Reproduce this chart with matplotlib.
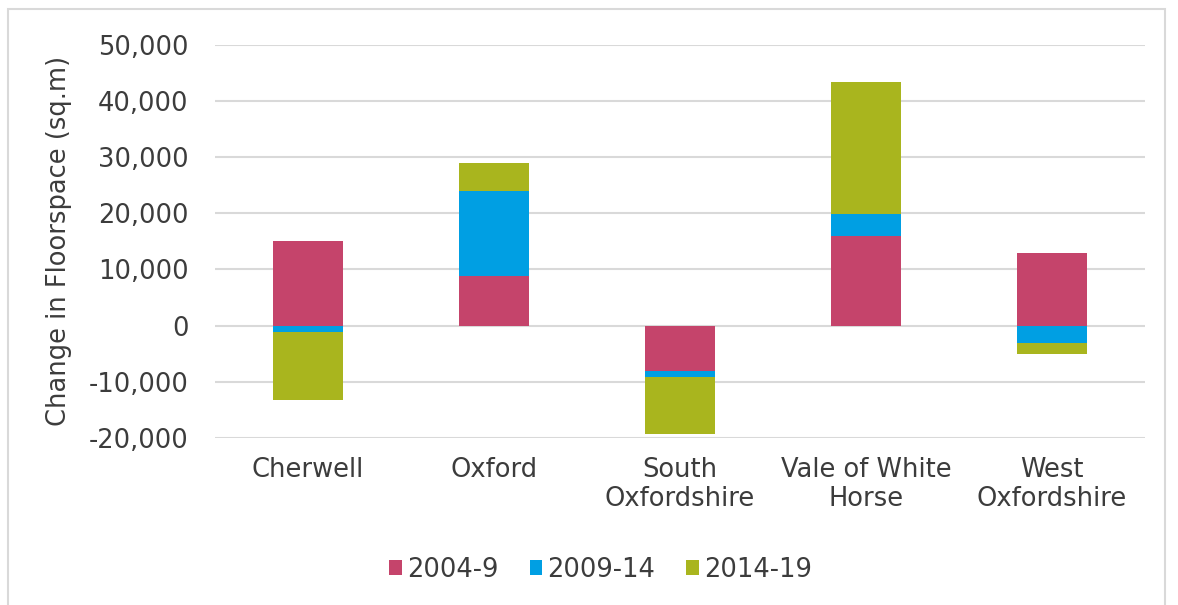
import numpy as np
import matplotlib
matplotlib.use("Agg")
import matplotlib.pyplot as plt
from matplotlib.patches import Rectangle
from matplotlib.ticker import FuncFormatter

plt.rcParams["font.family"] = ["DejaVu Sans"]

districts = ["Cherwell", "Oxford", "South\nOxfordshire", "Vale of White\nHorse", "West\nOxfordshire"]
periods = ["2004-9", "2009-14", "2014-19"]
change_2004_9 = [15000, 8800, -8100, 15900, 12900]
change_2009_14 = [-1200, 15200, -1100, 4000, -3000]
change_2014_19 = [-12100, 5000, -10000, 23400, -2000]
colors = ["#C5446B", "#009FE3", "#A9B51E"]

TXT = "#3C3C3C"
FS = 18.5

fig = plt.figure(figsize=(11.78, 6.05), dpi=100)
ax = fig.add_axes([0.1825, 0.276, 0.7895, 0.65])

x = np.arange(len(districts))
pos_base = np.zeros(len(districts))
neg_base = np.zeros(len(districts))
for vals, lab, col in zip([change_2004_9, change_2009_14, change_2014_19], periods, colors):
    v = np.array(vals, dtype=float)
    bottom = np.where(v >= 0, pos_base, neg_base)
    ax.bar(x, v, width=0.38, bottom=bottom, color=col, label=lab, zorder=3)
    pos_base += np.where(v >= 0, v, 0)
    neg_base += np.where(v < 0, v, 0)

ax.set_xlim(-0.5, 4.5)
ax.set_ylim(-20000, 50000)
ax.set_yticks(np.arange(-20000, 50001, 10000))
ax.yaxis.set_major_formatter(FuncFormatter(lambda v, p: f"{int(v):,}"))
ax.set_xticks(x)
ax.set_xticklabels(districts, linespacing=1.12)
ax.grid(axis="y", color="#D9D9D9", linewidth=1.5, zorder=0)
for s in ax.spines.values():
    s.set_visible(False)
ax.tick_params(axis="both", length=0, labelsize=FS, labelcolor=TXT)
ax.tick_params(axis="y", pad=19)
ax.tick_params(axis="x", pad=14)
ax.set_ylabel("Change in Floorspace (sq.m)", fontsize=FS, color=TXT, labelpad=12)

fig.legend(loc="center", bbox_to_anchor=(0.51, 0.058), ncol=3, frameon=False,
           fontsize=FS, handlelength=0.5, handleheight=0.5, handletextpad=0.2,
           columnspacing=1.2, labelcolor=TXT)

fig.patches.append(Rectangle((0.007, -0.02), 0.982, 1.005, transform=fig.transFigure,
                             fill=False, edgecolor="#D9D9D9", linewidth=1.5))

fig.savefig("out.png", dpi=100)
